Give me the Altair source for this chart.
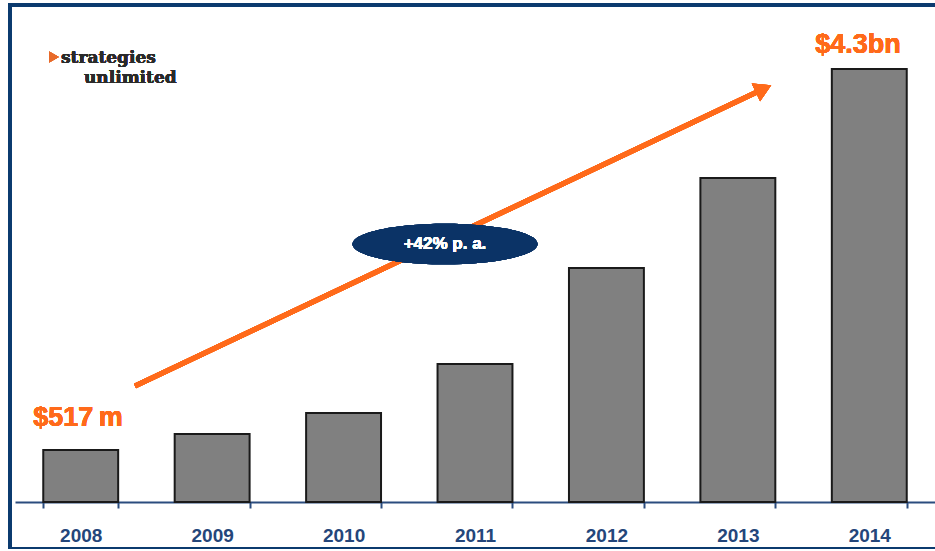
import altair as alt
import pandas as pd

years = ["2008", "2009", "2010", "2011", "2012", "2013", "2014"]
market_musd = [517, 675, 884, 1370, 2324, 3217, 4300]

NAVY = "#0B3A6E"
AXIS = "#2B4C7E"
ORANGE = "#FF6A1A"

df = pd.DataFrame({"year": years, "value": market_musd})

W, H = 920, 502

x = alt.X("year:N", sort=years, title=None,
          scale=alt.Scale(paddingInner=0.43, paddingOuter=0.215),
          axis=alt.Axis(labelAngle=0, labelFont="Liberation Sans", labelFontWeight="bold",
                        labelFontSize=19, labelColor="#24467A", domainColor=AXIS,
                        domainWidth=2, tickColor=AXIS, tickWidth=2, tickSize=6,
                        tickBand="extent", labelPadding=18))
y = alt.Y("value:Q", title=None, scale=alt.Scale(domain=[0, 4985], nice=False), axis=None)

bars = alt.Chart(df).mark_bar(color="#808080", stroke="#1A1A1A", strokeWidth=2).encode(x=x, y=y)

# frame
frame_top = alt.Chart(df).mark_rule(color=NAVY, strokeWidth=3).encode(
    x=alt.value(-7), x2=alt.value(W), y=alt.value(5))
frame_left = alt.Chart(df).mark_rule(color=NAVY, strokeWidth=3).encode(
    x=alt.value(-5), y=alt.value(5), y2=alt.value(549))
frame_bottom = alt.Chart(df).mark_rule(color=NAVY, strokeWidth=2).encode(
    x=alt.value(-5), x2=alt.value(W), y=alt.value(548))

# growth arrow
arrow = alt.Chart(df).mark_rule(color=ORANGE, strokeWidth=5).encode(
    x=alt.value(120), y=alt.value(386), x2=alt.value(742), y2=alt.value(92))
head = alt.Chart(df).mark_point(shape="triangle", filled=True, color=ORANGE, opacity=1,
                                size=380, angle=64.6).encode(
    x=alt.value(746), y=alt.value(90))

ellipse_path = "M -1 0 A 1 0.22 0 1 0 1 0 A 1 0.22 0 1 0 -1 0 Z"
ellipse = alt.Chart(df).mark_point(shape=ellipse_path, filled=True, color="#0B3366",
                                   opacity=1, size=185 * 185, strokeWidth=0).encode(
    x=alt.value(430), y=alt.value(244))
cagr = alt.Chart(df).mark_text(text="+42% p. a.", color="white", font="Liberation Sans",
                               fontWeight="bold", fontSize=17).encode(
    x=alt.value(430), y=alt.value(244))

lbl_start = alt.Chart(df).mark_text(text="$517\u2009m", color=ORANGE, font="Liberation Sans",
                                    fontWeight="bold", fontSize=27).encode(
    x=alt.value(63), y=alt.value(418))
lbl_end = alt.Chart(df).mark_text(text="$4.3bn", color=ORANGE, font="Liberation Sans",
                                  fontWeight="bold", fontSize=27).encode(
    x=alt.value(843), y=alt.value(45))

# logo
logo_icon = alt.Chart(df).mark_point(shape="triangle-right", filled=True, color="#E86A2A",
                                     opacity=1, size=120).encode(
    x=alt.value(39), y=alt.value(57))
logo1 = alt.Chart(df).mark_text(text="strategies", color="#2A2A2A", font="DejaVu Serif",
                                fontWeight="bold", fontSize=17, align="left",
                                baseline="alphabetic").encode(
    x=alt.value(46), y=alt.value(63))
logo2 = alt.Chart(df).mark_text(text="unlimited", color="#2A2A2A", font="DejaVu Serif",
                                fontWeight="bold", fontSize=17, align="left",
                                baseline="alphabetic").encode(
    x=alt.value(69), y=alt.value(83))

chart = alt.layer(
    bars, frame_top, frame_left, frame_bottom, arrow, head, ellipse, cagr,
    lbl_start, lbl_end, logo_icon, logo1, logo2
).properties(
    width=W, height=H,
    autosize=alt.AutoSizeParams(type="none"),
    padding={"left": 15, "top": 0, "right": 0, "bottom": 49},
    background="white",
).configure_view(stroke=None)

chart.save("out.html", embed_options={"renderer": "svg", "actions": False})
